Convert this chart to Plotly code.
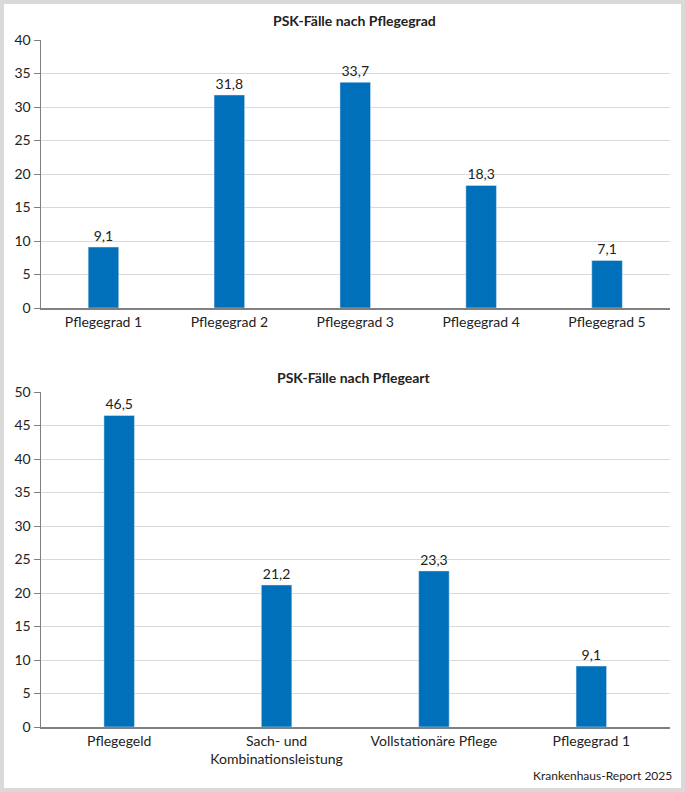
import plotly.graph_objects as go

W, H = 685, 792

cats1 = ["Pflegegrad 1", "Pflegegrad 2", "Pflegegrad 3", "Pflegegrad 4", "Pflegegrad 5"]
vals1 = [9.1, 31.8, 33.7, 18.3, 7.1]
title1 = "PSK-Fälle nach Pflegegrad"

cats2 = ["Pflegegeld", "Sach- und<br>Kombinationsleistung", "Vollstationäre Pflege", "Pflegegrad 1"]
vals2 = [46.5, 21.2, 23.3, 9.1]
title2 = "PSK-Fälle nach Pflegeart"

source = "Krankenhaus-Report 2025"

BAR = "#0070BA"
FONT = "Lato"
TXT = "#222222"

def py(px):
    return 1 - px / H

def px_x(px):
    return px / W

fig = go.Figure()
fig.add_trace(go.Bar(x=cats1, y=vals1, marker_color=BAR, width=0.243,
                     text=vals1, texttemplate="%{y:.1f}", textposition="outside",
                     textfont=dict(size=14, color=TXT), cliponaxis=False,
                     xaxis="x", yaxis="y", hoverinfo="skip"))
fig.add_trace(go.Bar(x=cats2, y=vals2, marker_color=BAR, width=0.194,
                     text=vals2, texttemplate="%{y:.1f}", textposition="outside",
                     textfont=dict(size=14, color=TXT), cliponaxis=False,
                     xaxis="x2", yaxis="y2", hoverinfo="skip"))

axis_common_y = dict(showline=True, linecolor="#808080", linewidth=1,
                     ticks="outside", ticklen=6, tickcolor="#808080",
                     gridcolor="#d9d9d9", gridwidth=1, zeroline=False,
                     tickfont=dict(size=14, color=TXT), dtick=5, automargin=False)
axis_common_x = dict(showline=True, linecolor="#808080", linewidth=1.5,
                     ticks="", tickfont=dict(size=14, color=TXT), showgrid=False,
                     automargin=False)

fig.update_layout(
    width=W, height=H,
    margin=dict(l=0, r=0, t=0, b=0, pad=0, autoexpand=False),
    paper_bgcolor="#d9d9d9", plot_bgcolor="white",
    separators=",.",
    showlegend=False,
    font=dict(family=FONT, color=TXT),
    xaxis=dict(domain=[px_x(40.5), px_x(670)], anchor="y", **axis_common_x),
    yaxis=dict(domain=[py(308), py(40)], range=[0, 40], anchor="x", **axis_common_y),
    xaxis2=dict(domain=[px_x(40.5), px_x(670)], anchor="y2", **axis_common_x),
    yaxis2=dict(domain=[py(727), py(392)], range=[0, 50], anchor="x2", **axis_common_y),
    shapes=[dict(type="rect", xref="paper", yref="paper",
                 x0=4 / W, x1=1 - 4 / W, y0=4 / H, y1=1 - 4 / H,
                 fillcolor="white", line=dict(width=0), layer="below")],
    annotations=[
        dict(text="<b>" + title1 + "</b>", xref="paper", yref="paper",
             x=354 / W, y=py(20), showarrow=False, font=dict(size=14, color=TXT),
             xanchor="center", yanchor="middle"),
        dict(text="<b>" + title2 + "</b>", xref="paper", yref="paper",
             x=354 / W, y=py(377), showarrow=False, font=dict(size=14, color=TXT),
             xanchor="center", yanchor="middle"),
        dict(text=source, xref="paper", yref="paper",
             x=674 / W, y=py(775), showarrow=False, font=dict(size=12, color=TXT),
             xanchor="right", yanchor="middle"),
    ],
)

fig.write_html(
    "out.html",
    config={"displayModeBar": False},
    post_script=(
        "document.documentElement.style.margin='0';"
        "document.body.style.margin='0';document.body.style.padding='0';"
        "document.body.style.overflow='hidden';"
        "var d=document.getElementById('{plot_id}');"
        "d.style.position='fixed';d.style.top='0';d.style.left='0';"
    ),
)
